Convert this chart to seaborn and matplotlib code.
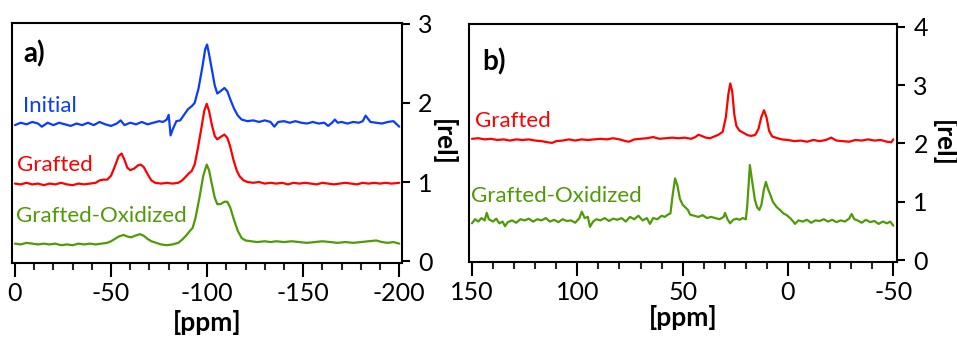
import numpy as np
import pandas as pd
import matplotlib
matplotlib.use("Agg")
import matplotlib.pyplot as plt
from matplotlib.ticker import MultipleLocator
import seaborn as sns

# ---------------- data ----------------
# panel a) 29Si region, (ppm, intensity)
initial_a = [
    (0, 1.72), (-3, 1.75), (-6, 1.73), (-9, 1.76), (-12, 1.74), (-14, 1.70), (-17, 1.75),
    (-20, 1.72), (-23, 1.75), (-26, 1.73), (-29, 1.71), (-32, 1.74), (-35, 1.72), (-38, 1.75),
    (-41, 1.72), (-44, 1.76), (-47, 1.73), (-50, 1.71), (-53, 1.74), (-55, 1.78), (-57, 1.72),
    (-60, 1.75), (-63, 1.73), (-66, 1.76), (-69, 1.73), (-72, 1.75), (-75, 1.77), (-77, 1.76),
    (-79, 1.79), (-80, 1.85), (-81, 1.59), (-82, 1.66), (-84, 1.77), (-86, 1.78), (-88, 1.85),
    (-90, 1.92), (-92, 1.96), (-93.5, 2.00), (-95.5, 2.18), (-97.5, 2.45), (-99, 2.68),
    (-100, 2.74), (-101, 2.62), (-102.5, 2.42), (-104, 2.22), (-105.3, 2.12), (-107, 2.15),
    (-109, 2.19), (-110.5, 2.15), (-112, 2.05), (-114, 1.93), (-116, 1.84), (-118, 1.79),
    (-121, 1.77), (-124, 1.78), (-127, 1.76), (-130, 1.78), (-133, 1.76), (-135, 1.70),
    (-137, 1.76), (-140, 1.77), (-143, 1.75), (-146, 1.77), (-149, 1.75), (-152, 1.74),
    (-155, 1.76), (-158, 1.74), (-161, 1.75), (-163, 1.71), (-165, 1.75), (-166.5, 1.79),
    (-168, 1.75), (-170, 1.76), (-173, 1.74), (-176, 1.76), (-179, 1.75), (-181, 1.77),
    (-182.5, 1.84), (-185, 1.76), (-188, 1.75), (-191, 1.74), (-194, 1.76), (-197, 1.77),
    (-200, 1.70),
]
grafted_a = [
    (0, 0.98), (-3, 0.97), (-6, 0.99), (-9, 0.97), (-12, 0.98), (-15, 0.96), (-18, 0.98),
    (-21, 0.97), (-24, 0.99), (-27, 0.97), (-30, 0.96), (-33, 0.98), (-36, 0.97), (-39, 0.98),
    (-42, 0.99), (-44, 1.02), (-46, 1.03), (-48, 1.03), (-50, 1.08), (-52, 1.20), (-54, 1.33),
    (-55.5, 1.36), (-57, 1.28), (-58.5, 1.18), (-60, 1.15), (-62, 1.17), (-64, 1.21),
    (-65.5, 1.22), (-67, 1.19), (-69, 1.10), (-71, 1.02), (-73, 0.99), (-76, 0.98), (-79, 0.99),
    (-82, 0.98), (-85, 0.99), (-87, 1.02), (-89, 1.07), (-90.5, 1.11), (-92, 1.14),
    (-93.5, 1.22), (-95, 1.40), (-97, 1.68), (-98.5, 1.90), (-99.8, 1.99), (-101, 1.90),
    (-102.5, 1.72), (-104, 1.58), (-105.3, 1.54), (-107, 1.57), (-109, 1.60), (-110.5, 1.56),
    (-112, 1.45), (-113.7, 1.28), (-115.5, 1.14), (-117, 1.07), (-119, 1.02), (-121, 1.00),
    (-124, 0.99), (-127, 1.00), (-130, 0.98), (-133, 0.99), (-136, 0.98), (-139, 0.99),
    (-142, 0.97), (-145, 0.99), (-148, 0.98), (-151, 0.99), (-154, 0.98), (-157, 0.97),
    (-160, 0.99), (-163, 0.98), (-166, 0.97), (-169, 0.98), (-172, 0.99), (-175, 0.98),
    (-178, 0.97), (-181, 0.99), (-184, 0.98), (-187, 0.99), (-190, 0.98), (-193, 0.99),
    (-196, 0.98), (-200, 0.99),
]
oxidized_a = [
    (0, 0.22), (-3, 0.21), (-6, 0.23), (-9, 0.22), (-12, 0.21), (-15, 0.22), (-18, 0.21),
    (-21, 0.22), (-24, 0.20), (-27, 0.21), (-30, 0.20), (-33, 0.22), (-36, 0.21), (-39, 0.22),
    (-42, 0.21), (-45, 0.22), (-48, 0.23), (-50, 0.25), (-52, 0.28), (-54, 0.31),
    (-56.5, 0.33), (-58.5, 0.31), (-60.5, 0.30), (-62.5, 0.32), (-65, 0.34), (-67, 0.32),
    (-69, 0.28), (-71, 0.25), (-73.5, 0.23), (-76, 0.21), (-79, 0.20), (-82, 0.21),
    (-85, 0.23), (-87, 0.27), (-89, 0.32), (-91, 0.38), (-92.5, 0.42), (-94, 0.55),
    (-96, 0.80), (-98, 1.08), (-99.8, 1.22), (-101, 1.15), (-102.5, 0.97), (-104, 0.80),
    (-105.3, 0.72), (-107, 0.72), (-109, 0.75), (-110.5, 0.75), (-112, 0.68), (-114, 0.52),
    (-116, 0.38), (-118, 0.29), (-120, 0.26), (-123, 0.25), (-126, 0.24), (-130, 0.25),
    (-133, 0.24), (-136, 0.25), (-140, 0.24), (-144, 0.25), (-148, 0.24), (-152, 0.23),
    (-156, 0.24), (-160, 0.25), (-164, 0.24), (-168, 0.23), (-172, 0.24), (-176, 0.23),
    (-180, 0.24), (-184, 0.25), (-188, 0.26), (-191, 0.24), (-194, 0.23), (-197, 0.24),
    (-200, 0.22),
]

# panel b) 13C region, (ppm, intensity)
grafted_b = [
    (150, 2.08), (147, 2.09), (144, 2.07), (141, 2.08), (138, 2.06), (135, 2.07), (132, 2.05),
    (129, 2.07), (126, 2.06), (123, 2.07), (120, 2.05), (117, 2.04), (114, 2.02), (112, 2.01),
    (110, 2.04), (107, 2.05), (104, 2.07), (101, 2.05), (98, 2.07), (95, 2.06), (92, 2.07),
    (89, 2.08), (86, 2.07), (83, 2.09), (80, 2.07), (77, 2.04), (75.5, 2.03), (73, 2.07),
    (70, 2.08), (67, 2.09), (64, 2.11), (61, 2.08), (58, 2.09), (55, 2.10), (52, 2.09),
    (49, 2.10), (46, 2.08), (44, 2.11), (42.5, 2.15), (41, 2.13), (39, 2.10), (37, 2.09),
    (35, 2.12), (33, 2.15), (31, 2.20), (29.5, 2.45), (28.3, 2.85), (27.4, 3.03), (26.5, 2.90),
    (25.5, 2.50), (24.5, 2.30), (23, 2.22), (21, 2.18), (19, 2.14), (17.3, 2.13), (15.5, 2.15),
    (14, 2.25), (12.7, 2.45), (11.4, 2.57), (10.2, 2.45), (9, 2.22), (7.5, 2.12), (5, 2.09),
    (3, 2.07), (0, 2.06), (-3, 2.04), (-6, 2.05), (-9, 2.03), (-12, 2.06), (-15, 2.04),
    (-18, 2.06), (-20.5, 2.10), (-23, 2.05), (-26, 2.04), (-29, 2.03), (-32, 2.06),
    (-35, 2.05), (-38, 2.07), (-41, 2.05), (-44, 2.06), (-47, 2.03), (-49, 2.02), (-50, 2.07),
]
oxidized_b = [
    (150, 0.63), (148.5, 0.70), (147, 0.66), (145.5, 0.72), (144, 0.68), (143, 0.81),
    (142, 0.70), (140, 0.66), (138.5, 0.71), (137, 0.63), (135.5, 0.66), (134.3, 0.58),
    (133, 0.65), (131, 0.68), (129, 0.64), (127, 0.70), (125, 0.68), (123, 0.71), (121, 0.66),
    (119, 0.70), (117, 0.68), (115, 0.72), (113, 0.66), (111, 0.69), (109, 0.65), (107, 0.70),
    (105, 0.67), (103, 0.68), (101, 0.64), (99, 0.72), (97.9, 0.83), (96.5, 0.72), (95, 0.74),
    (94, 0.57), (92.5, 0.66), (91, 0.70), (89, 0.68), (87, 0.72), (85, 0.67), (83, 0.71),
    (81, 0.69), (79, 0.72), (77, 0.66), (75, 0.74), (73, 0.70), (71, 0.76), (69, 0.68),
    (67, 0.72), (65.5, 0.62), (64, 0.72), (62, 0.70), (60, 0.76), (58.5, 0.74), (57, 0.78),
    (55.8, 0.80), (54.8, 1.10), (53.6, 1.40), (52.5, 1.28), (51.3, 1.05), (50, 0.95),
    (48.9, 0.91), (47.5, 0.86), (46.5, 0.78), (44.5, 0.76), (42.5, 0.74), (40.5, 0.77),
    (38.5, 0.72), (36.5, 0.74), (34.5, 0.72), (32.5, 0.70), (30.5, 0.74), (29.9, 0.81),
    (28.7, 0.70), (27.5, 0.63), (26, 0.69), (24.5, 0.71), (23, 0.69), (21.5, 0.72),
    (20, 0.70), (19.3, 0.95), (18.1, 1.63), (17, 1.35), (15.7, 1.03), (14.6, 0.90),
    (13.6, 0.86), (12.6, 0.95), (11.5, 1.20), (10.5, 1.34), (9.5, 1.22), (8.6, 1.14),
    (7.2, 1.00), (5.4, 0.91), (3.8, 0.86), (2.2, 0.80), (0.6, 0.77), (-1, 0.72), (-2.5, 0.66),
    (-3.3, 0.62), (-5, 0.68), (-7, 0.66), (-9, 0.69), (-11, 0.64), (-13, 0.68), (-15, 0.67),
    (-17, 0.70), (-19, 0.66), (-21, 0.69), (-23, 0.65), (-25, 0.68), (-27, 0.66), (-29, 0.71),
    (-30.2, 0.79), (-31.5, 0.70), (-33, 0.68), (-35, 0.64), (-37, 0.69), (-39, 0.65),
    (-41, 0.67), (-43, 0.62), (-45, 0.66), (-47, 0.63), (-48.5, 0.66), (-50, 0.59),
]

colors = {"Initial": "#0a3cff", "Grafted": "#ff0000", "Grafted-Oxidized": "#4f9a06"}


def to_df(series):
    rows = []
    for name, pts in series.items():
        for p, v in pts:
            rows.append({"ppm": p, "val": v, "sample": name})
    return pd.DataFrame(rows)


df_a = to_df({"Initial": initial_a, "Grafted": grafted_a, "Grafted-Oxidized": oxidized_a})
df_b = to_df({"Grafted": grafted_b, "Grafted-Oxidized": oxidized_b})

# ---------------- style ----------------
sns.set_theme(style="ticks")
plt.rcParams["font.family"] = ["Lato", "DejaVu Sans"]
plt.rcParams["axes.linewidth"] = 1.5
plt.rcParams["axes.unicode_minus"] = False
plt.rcParams["text.color"] = "black"
plt.rcParams["axes.labelcolor"] = "black"

fig = plt.figure(figsize=(9.57, 3.42), dpi=100)
ax_a = fig.add_axes([0.0125, 0.231, 0.4072, 0.7026])
ax_b = fig.add_axes([0.4901, 0.2339, 0.4469, 0.6959])


def style_axis(ax, xlim, ylim, yticks, label_y):
    ax.set_xlim(*xlim)
    ax.set_ylim(*ylim)
    ax.xaxis.set_major_locator(MultipleLocator(50))
    ax.xaxis.set_minor_locator(MultipleLocator(10))
    ax.set_yticks(yticks)
    ax.yaxis.tick_right()
    for s in ax.spines.values():
        s.set_visible(True)
        s.set_color("black")
        s.set_linewidth(1.5)
    ax.tick_params(axis="x", which="major", direction="out", length=10, width=1.5,
                   labelsize=18, pad=4, colors="black")
    ax.tick_params(axis="x", which="minor", direction="out", length=5, width=1.5)
    ax.tick_params(axis="y", direction="out", length=6, width=1.5, labelsize=18, pad=6,
                   left=False, right=True, colors="black")
    ax.set_xlabel("[ppm]", fontsize=19, fontweight="bold", va="top")
    ax.xaxis.set_label_coords(0.5, label_y)
    ax.set_ylabel("")
    ax.text(1.108, 0.5, "[rel]", transform=ax.transAxes, rotation=270, ha="center",
            va="center", fontsize=19, fontweight="bold")


# panel a
sns.lineplot(data=df_a, x="ppm", y="val", hue="sample", palette=colors, ax=ax_a,
             legend=False, sort=False, estimator=None, linewidth=1.6)
style_axis(ax_a, (1.56, -201.25), (-0.025, 3.016), [0, 1, 2, 3], -0.195)
ax_a.text(0.03, 0.87, "a)", transform=ax_a.transAxes, fontsize=20, fontweight="bold",
          va="center")
ax_a.text(-4.3, 1.89, "Initial", color=colors["Initial"], fontsize=16, va="baseline")
ax_a.text(-0.9, 1.14, "Grafted", color=colors["Grafted"], fontsize=16, va="baseline")
ax_a.text(-0.5, 0.50, "Grafted-Oxidized", color=colors["Grafted-Oxidized"], fontsize=16,
          va="baseline")

# panel b
sns.lineplot(data=df_b, x="ppm", y="val", hue="sample", palette=colors, ax=ax_b,
             legend=False, sort=False, estimator=None, linewidth=1.6)
style_axis(ax_b, (151.4, -51.6), (-0.034, 4.05), [0, 1, 2, 3, 4], -0.18)
ax_b.text(0.03, 0.84, "b)", transform=ax_b.transAxes, fontsize=20, fontweight="bold",
          va="center")
ax_b.text(148.6, 2.29, "Grafted", color=colors["Grafted"], fontsize=16, va="baseline")
ax_b.text(150.5, 1.00, "Grafted-Oxidized", color=colors["Grafted-Oxidized"], fontsize=16,
          va="baseline")

fig.savefig("out.png", dpi=100)
